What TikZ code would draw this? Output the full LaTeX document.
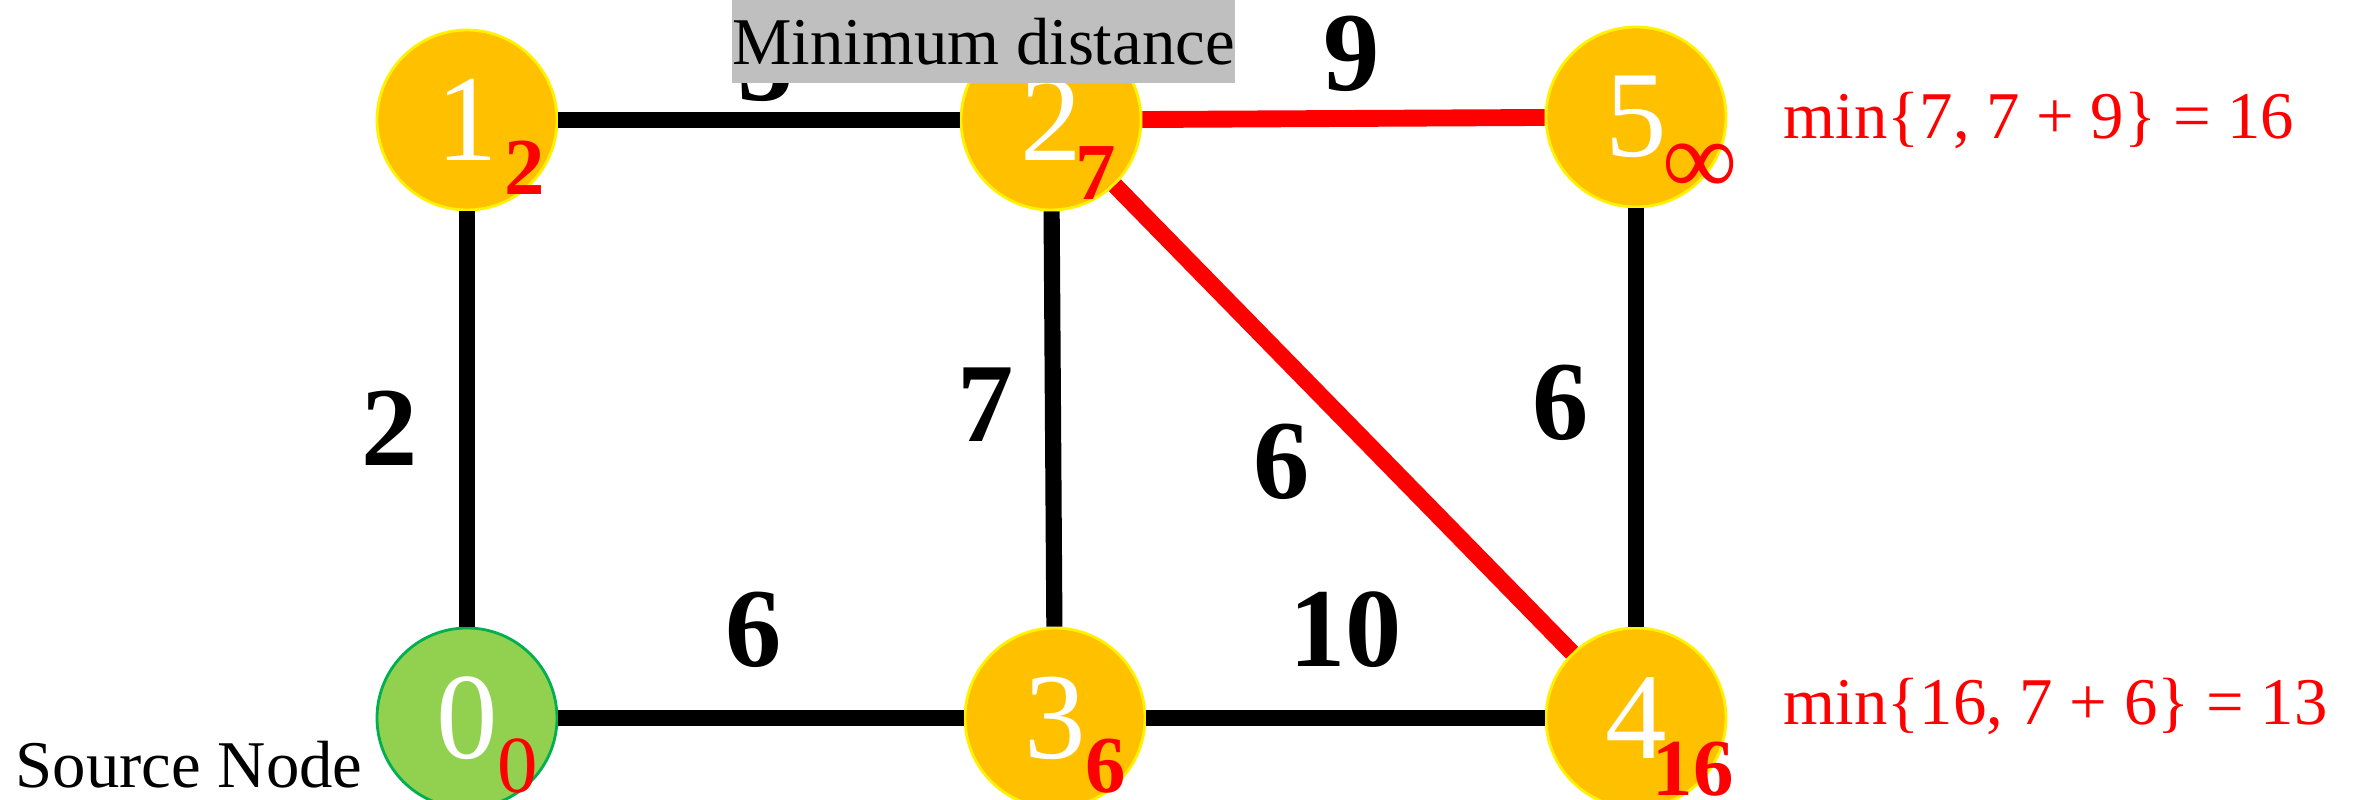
\documentclass[tikz,border=0pt]{standalone}
\usepackage{fontspec}
\setmainfont{Liberation Serif}
\usetikzlibrary{positioning,calc}
\definecolor{vtxfill}{RGB}{255,192,0}
\definecolor{srcfill}{RGB}{146,208,80}
\definecolor{srcline}{RGB}{0,176,80}
\definecolor{boxgray}{RGB}{191,191,191}

\begin{document}
\begin{tikzpicture}[
  vtx/.style={circle, fill=vtxfill, draw=yellow, line width=0.8pt, minimum size=1.8cm,
              inner sep=0pt, text=white, font=\fontsize{35pt}{40pt}\selectfont},
  srcvtx/.style={vtx, fill=srcfill, draw=srcline},
  edge/.style={line width=4.6pt, draw=black},
  hot/.style={line width=4.8pt, draw=red},
  wlbl/.style={font=\fontsize{32pt}{37pt}\selectfont\bfseries, inner sep=0pt},
  dist/.style={text=red, font=\fontsize{23pt}{27pt}\selectfont\bfseries, inner sep=0pt},
  upd/.style={text=red, font=\fontsize{19pt}{23pt}\selectfont, inner sep=0pt, anchor=west},
  caption/.style={font=\fontsize{19pt}{23pt}\selectfont, inner sep=0pt},
]
\useasboundingbox (0,0) rectangle (23.54,-8);

% vertices
\node[vtx]    (n1) at (4.67,-1.20)  {1};
\node[vtx]    (n2) at (10.51,-1.20) {2};
\node[vtx]    (n5) at (16.36,-1.17) {5};
\node[srcvtx] (n0) at (4.67,-7.18)  {0};
\node[vtx]    (n3) at (10.55,-7.18) {3};
\node[vtx]    (n4) at (16.36,-7.18) {4};

% edges
\draw[edge] (n1) -- node[wlbl, xshift=0.7mm, yshift=5.6mm] {5} (n2);
\draw[hot]  (n2) -- node[wlbl, xshift=0.8mm, yshift=6.5mm] {9} (n5);
\draw[edge] (n0) -- node[wlbl, xshift=-7.7mm, yshift=-0.9mm] {2} (n1);
\draw[edge] (n3) -- node[wlbl, xshift=-6.7mm, yshift=1.4mm] {7} (n2);
\draw[hot]  (n2) -- node[wlbl, xshift=-6.2mm, yshift=-4.3mm] {6} (n4);
\draw[edge] (n4) -- node[wlbl, xshift=-7.5mm, yshift=1.5mm] {6} (n5);
\draw[edge] (n0) -- node[wlbl, xshift=-0.7mm, yshift=8.8mm] {6} (n3);
\draw[edge] (n3) -- node[wlbl, yshift=8.8mm] {10} (n4);

% current distances
\node[dist] (d1) at ([shift={(0.58,-0.48)}]n1.center) {2};
\node[dist] (d2) at ([shift={(0.45,-0.53)}]n2.center) {7};
\node[dist, font=\fontsize{30pt}{34pt}\selectfont] (d5) at ([shift={(0.64,-0.52)}]n5.center) {∞};
\node[dist, font=\fontsize{23pt}{27pt}\selectfont] (d0) at ([shift={(0.51,-0.48)}]n0.center) {0};
\node[dist] (d3) at ([shift={(0.51,-0.48)}]n3.center) {6};
\node[dist] (d4) at ([shift={(0.57,-0.51)}]n4.center) {16};

% updates
\node[upd] (u5) at (17.83,-1.20) {min\{7, 7 + 9\} = 16};
\node[upd] (u4) at (17.83,-7.06) {min\{16, 7 + 6\} = 13};

% captions
\node[caption, anchor=base west] (src) at (0.15,-7.88) {Source Node};
\node[caption, fill=boxgray, minimum width=5.01cm, minimum height=0.83cm]
  (mind) at (9.835,-0.415) {Minimum distance};

\end{tikzpicture}
\end{document}
